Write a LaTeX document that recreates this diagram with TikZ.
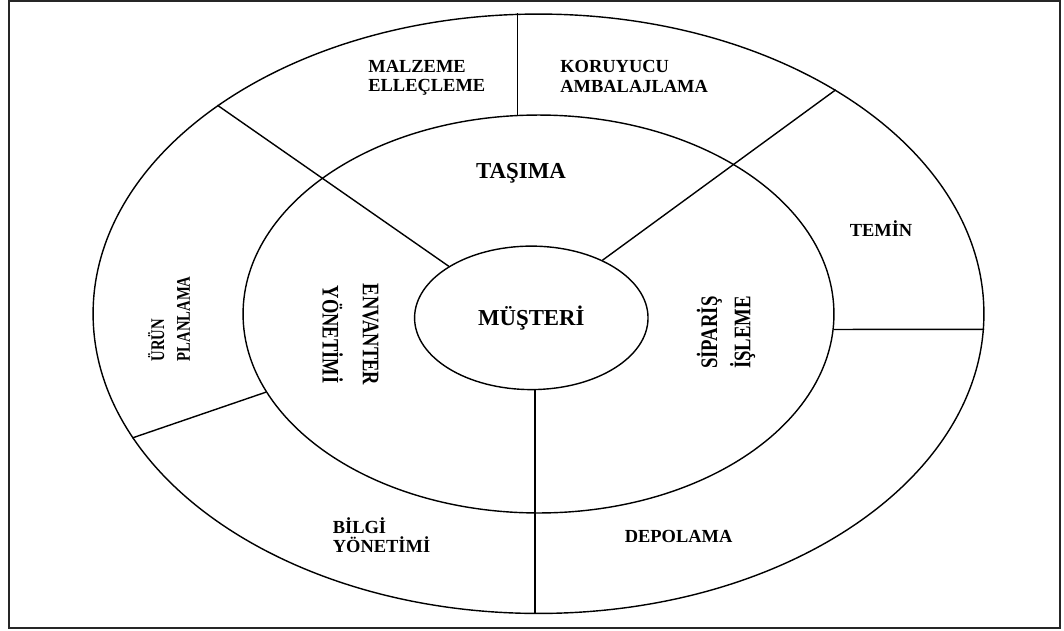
\documentclass[tikz,border=0pt]{standalone}
\usepackage{fontspec}
\setmainfont{Liberation Serif}
\usetikzlibrary{shapes.geometric}
\newcommand{\narrowtext}[2]{\scalebox{#1}[1]{#2}}

\begin{document}
\begin{tikzpicture}
[x=0.02cm,y=0.02cm,
  ringdecorate/.style={shape=ellipse,draw,line width=0.8pt,inner sep=0pt},%
  linedecorate/.style={-,line width=0.8pt},%
  labeldecorate/.style={inner sep=0pt,align=left,font=\bfseries\fontsize{10.5}{11}\selectfont},%
  bigdecorate/.style={inner sep=0pt,align=center,font=\bfseries\fontsize{13}{15}\selectfont}]
\useasboundingbox (0,0) rectangle (1064,630);
%% frame
\draw[line width=1.2pt,black!85] (9,2) rectangle (1060,629);
%% rings
\node (outer) at (538.5,316.25) [ringdecorate,minimum width=17.82cm,minimum height=11.99cm] {};
\node (inner) at (538.5,316) [ringdecorate,minimum width=11.82cm,minimum height=7.96cm] {};
\node (musteri) at (531.3,312.15) [ringdecorate,minimum width=4.67cm,minimum height=2.87cm,
  font=\bfseries\fontsize{13}{15}\selectfont] {MÜŞTERİ};
%% spokes
\foreach \startnode/\endnode in {outer.147.4/musteri.148.7,
  outer.37.9/musteri.39.5, inner.-3.6/outer.-2.4, inner.196.7/outer.197.9} {
  \draw[linedecorate] (\startnode) -- (\endnode);
}
\draw[linedecorate] (inner.96.5) -- (inner.96.5 |- outer.north);
\draw[linedecorate] (musteri.273.7) -- (musteri.273.7 |- outer.south);
%% labels
\node (malzeme) at (368,552.5) [labeldecorate,anchor=west] {MALZEME\\ELLEÇLEME};
\node (koruyucu) at (560,553.4) [labeldecorate,anchor=west] {KORUYUCU\\AMBALAJLAMA};
\node (tasima) at (521,457.2) [bigdecorate] {TAŞIMA};
\node (temin) at (881,401) [labeldecorate] {TEMİN};
\node (bilgi) at (332.5,94.6) [labeldecorate,anchor=west] {BİLGİ\\YÖNETİMİ};
\node (depolama) at (678.6,93.6) [labeldecorate] {DEPOLAMA};
\node (envanter) at (350.5,295.5) [bigdecorate,rotate=-90,
  font=\bfseries\fontsize{13.5}{23}\selectfont]
  {\narrowtext{0.78}{ENVANTER}\\\narrowtext{0.78}{YÖNETİMİ}};
\node (siparis) at (726,297.5) [bigdecorate,rotate=90,align=left,
  font=\bfseries\fontsize{13.5}{19}\selectfont]
  {\narrowtext{0.79}{SİPARİŞ}\\\narrowtext{0.79}{İŞLEME}};
\node (urun) at (169,268.4) [labeldecorate,rotate=90,anchor=west,
  font=\bfseries\fontsize{11}{14.7}\selectfont]
  {\narrowtext{0.76}{ÜRÜN}\\\narrowtext{0.76}{PLANLAMA}};
\end{tikzpicture}
\end{document}
